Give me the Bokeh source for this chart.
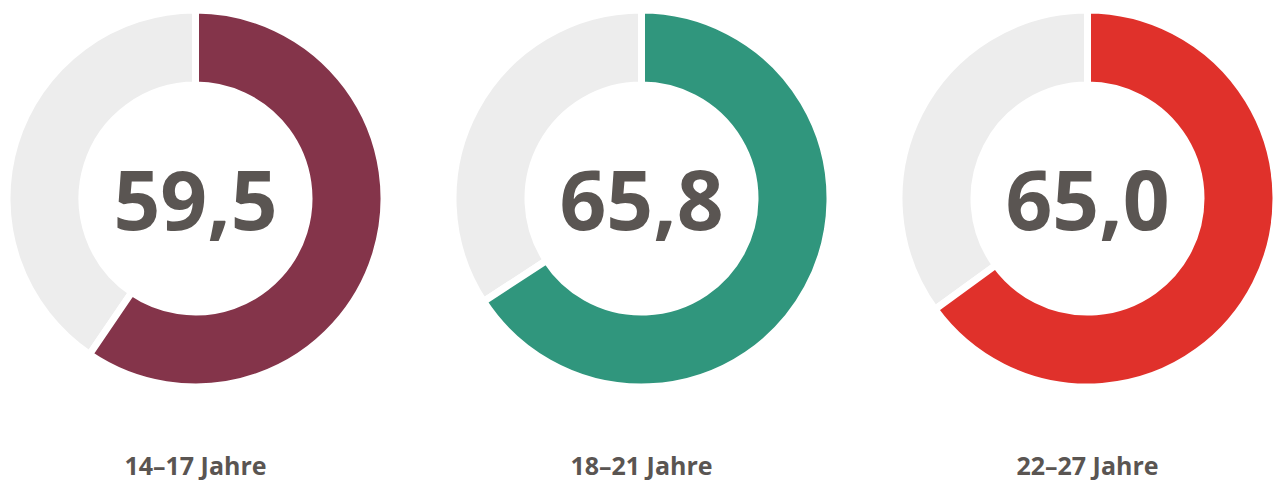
import math
from bokeh.plotting import figure
from bokeh.models import ColumnDataSource, Range1d
from bokeh.core.properties import value
from bokeh.embed import file_html
from bokeh.resources import INLINE

# Data
categories = ["14–17 Jahre", "18–21 Jahre", "22–27 Jahre"]
values = [59.5, 65.8, 65.0]
colors = ["#84344A", "#30967D", "#E0312B"]
rest_color = "#EDEDED"
text_color = "#5A5552"

# Layout (data units == screen pixels; screen y s -> data 480 - s)
W, H = 1277, 480
centers_x = [195, 641, 1087]
center_y = 480 - 198
r_outer, r_inner, gap = 185, 117, 7

start = math.pi / 2
ends = [start - 2 * math.pi * v / 100 for v in values]

p = figure(width=W, height=H, output_backend="svg", toolbar_location=None,
           x_range=Range1d(0, W), y_range=Range1d(0, H),
           min_border=0)
p.axis.visible = False
p.grid.visible = False
p.outline_line_color = None
p.background_fill_color = "white"
p.border_fill_color = "white"

val_src = ColumnDataSource(dict(x=centers_x, y=[center_y] * 3,
                                start=[start] * 3, end=ends, color=colors))
rest_src = ColumnDataSource(dict(x=centers_x, y=[center_y] * 3,
                                 start=ends, end=[start] * 3))

p.annular_wedge(x="x", y="y", inner_radius=r_inner - gap / 2, outer_radius=r_outer + gap / 2,
                start_angle="start", end_angle="end", direction="clock",
                source=rest_src, fill_color=rest_color, line_color="white", line_width=gap)
p.annular_wedge(x="x", y="y", inner_radius=r_inner - gap / 2, outer_radius=r_outer + gap / 2,
                start_angle="start", end_angle="end", direction="clock",
                source=val_src, fill_color="color", line_color="white", line_width=gap)

num_labels = [f"{v:.1f}".replace(".", ",") for v in values]
p.text(x=centers_x, y=[480 - 199] * 3, text=num_labels,
       text_font=value("Open Sans"), text_font_style="bold", text_font_size="82px",
       text_color=text_color, text_align="center", text_baseline="alphabetic")

p.text(x=centers_x, y=[480 - 464] * 3, text=categories,
       text_font=value("Open Sans"), text_font_style="bold", text_font_size="25px",
       text_color=text_color, text_align="center", text_baseline="alphabetic")

open("out.html", "w").write(file_html(p, INLINE))
